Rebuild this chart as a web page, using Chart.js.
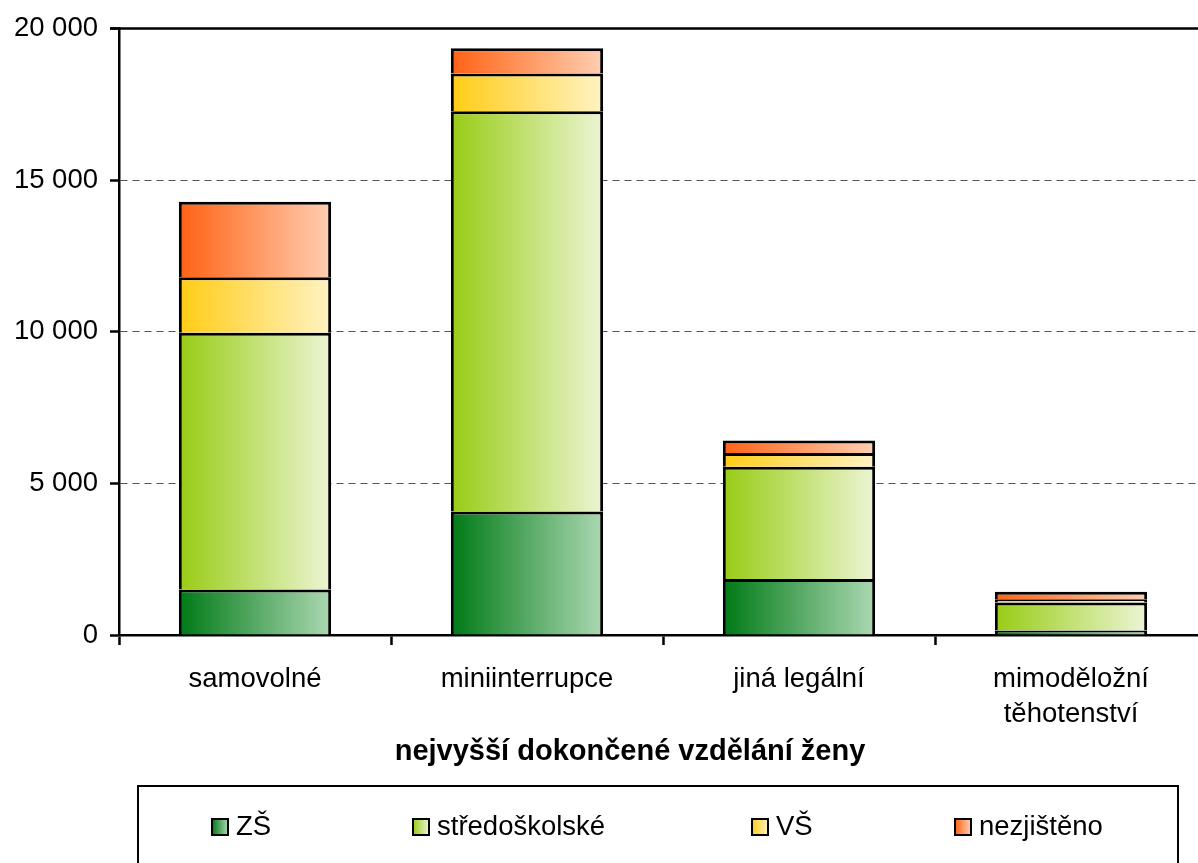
<!DOCTYPE html>
<html>
<head>
<meta charset="utf-8">
<script src="https://cdn.jsdelivr.net/npm/chart.js@4"></script>
<style>
  html, body { margin: 0; padding: 0; background: #fff; overflow: hidden; }
  #wrap { width: 1207px; height: 863px; position: relative; }
</style>
</head>
<body>
<div id="wrap"><canvas id="c"></canvas></div>
<script>
const categories = ['samovolné', 'miniinterrupce', 'jiná legální', ['mimoděložní', 'těhotenství']];
const seriesNames = ['ZŠ', 'středoškolské', 'VŠ', 'nezjištěno'];
const zs = [1500, 4070, 1850, 150];
const stredni = [8470, 13200, 3700, 925];
const vs = [1830, 1250, 455, 100];
const nezjisteno = [2490, 830, 410, 250];
const yTicks = [0, 5000, 10000, 15000, 20000];
const axisTitle = 'nejvyšší dokončené vzdělání ženy';

const FONT = '"Liberation Sans", Arial, sans-serif';
const FS = 27.5;
const BAR_PCT = 0.56;

const gradStops = [
  ['rgb(0,122,22)', 'rgb(172,216,178)'],
  ['rgb(152,204,20)', 'rgb(236,245,212)'],
  ['rgb(255,204,20)', 'rgb(255,243,196)'],
  ['rgb(255,98,20)', 'rgb(255,206,178)']
];

function barGradient(i) {
  return (ctx) => {
    const chart = ctx.chart;
    const xs = chart.scales && chart.scales.x;
    if (!chart.chartArea || !xs || ctx.dataIndex === undefined) return gradStops[i][0];
    const cx = xs.getPixelForValue(ctx.dataIndex);
    const w = (xs.right - xs.left) / categories.length * BAR_PCT;
    const g = chart.ctx.createLinearGradient(cx - w / 2, 0, cx + w / 2, 0);
    g.addColorStop(0, gradStops[i][0]);
    g.addColorStop(1, gradStops[i][1]);
    return g;
  };
}

const seriesData = [zs, stredni, vs, nezjisteno];

const extras = {
  id: 'extras',
  afterDraw(chart) {
    const c = chart.ctx;
    const a = chart.chartArea;
    c.save();
    // top border of plot area
    c.strokeStyle = '#000';
    c.lineWidth = 2.5;
    c.beginPath();
    c.moveTo(a.left - 9, a.top);
    c.lineTo(a.right + 5, a.top);
    c.stroke();
    // axis title
    c.fillStyle = '#000';
    c.font = 'bold 29px ' + FONT;
    c.textAlign = 'center';
    c.textBaseline = 'alphabetic';
    c.fillText(axisTitle, 630, 760);
    // legend box
    c.lineWidth = 2;
    c.strokeRect(138, 786, 1040, 100);
    const mx = [212, 413, 752, 955];
    c.font = FS + 'px ' + FONT;
    c.textAlign = 'left';
    for (let i = 0; i < seriesNames.length; i++) {
      const x = mx[i], y = 819, s = 16;
      const g = c.createLinearGradient(x, 0, x + s, 0);
      g.addColorStop(0, gradStops[i][0]);
      g.addColorStop(1, gradStops[i][1]);
      c.fillStyle = g;
      c.fillRect(x, y, s, s);
      c.strokeStyle = '#000';
      c.lineWidth = 2;
      c.strokeRect(x, y, s, s);
      c.fillStyle = '#000';
      c.fillText(seriesNames[i], x + 24, 835);
    }
    c.restore();
  }
};

new Chart(document.getElementById('c'), {
  type: 'bar',
  data: {
    labels: categories,
    datasets: seriesData.map((d, i) => ({
      label: seriesNames[i],
      data: d,
      backgroundColor: barGradient(i),
      borderColor: '#000',
      borderWidth: 3,
      barPercentage: BAR_PCT,
      categoryPercentage: 1.0
    }))
  },
  options: {
    responsive: true,
    maintainAspectRatio: false,
    animation: false,
    layout: { padding: { top: 26, left: 0, right: 0, bottom: 0 } },
    plugins: { legend: { display: false }, tooltip: { enabled: false }, title: { display: false } },
    scales: {
      x: {
        stacked: true,
        offset: true,
        grid: { offset: true, drawOnChartArea: false, drawTicks: true, tickLength: 10, tickColor: '#000', tickWidth: 2.5 },
        border: { color: '#000', width: 2.5 },
        ticks: { color: '#000', font: { family: FONT, size: FS, lineHeight: 1.28 }, padding: 17, maxRotation: 0, autoSkip: false },
        afterFit: (s) => { s.height = 863 - 635; }
      },
      y: {
        stacked: true,
        min: 0,
        max: 20000,
        afterBuildTicks: (s) => { s.ticks = yTicks.map(v => ({ value: v })); },
        grid: {
          color: (ctx) => (ctx.tick && (ctx.tick.value === 0 || ctx.tick.value === 20000)) ? 'rgba(0,0,0,0)' : '#555',
          lineWidth: 1,
          drawTicks: true, tickLength: 9, tickColor: '#000', tickWidth: 2.5
        },
        border: { color: '#000', width: 2.5, dash: [7, 5] },
        ticks: {
          color: '#000', font: { family: FONT, size: FS }, padding: 12,
          callback: (v) => String(v).replace(/\B(?=(\d{3})+(?!\d))/g, ' ')
        },
        afterFit: (s) => { s.width = 119; }
      }
    }
  },
  plugins: [extras]
});
</script>
</body>
</html>
